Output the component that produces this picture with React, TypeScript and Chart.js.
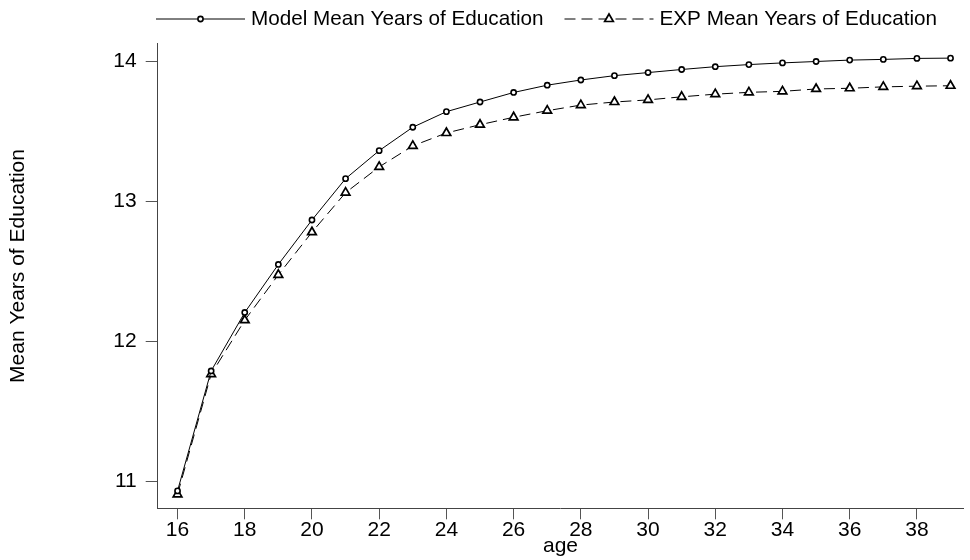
import React, { useEffect, useRef } from "react";
import { Chart, registerables } from "chart.js";

Chart.register(...registerables);

const ages = [16, 17, 18, 19, 20, 21, 22, 23, 24, 25, 26, 27, 28, 29, 30, 31, 32, 33, 34, 35, 36, 37, 38, 39];
const modelMean = [
  10.934, 11.79, 12.207, 12.55, 12.867, 13.162, 13.362, 13.529, 13.64, 13.709, 13.777, 13.829,
  13.866, 13.897, 13.919, 13.941, 13.961, 13.976, 13.988, 13.998, 14.008, 14.013, 14.02, 14.022,
];
const expMean = [
  10.91, 11.767, 12.152, 12.476, 12.78, 13.062, 13.246, 13.396, 13.488, 13.547, 13.6, 13.647,
  13.687, 13.709, 13.724, 13.746, 13.765, 13.778, 13.785, 13.802, 13.807, 13.817, 13.822, 13.825,
];
const xTickValues = [16, 18, 20, 22, 24, 26, 28, 30, 32, 34, 36, 38];
const yTickValues = [11, 12, 13, 14];
const seriesLabels = ["Model Mean Years of Education", "EXP Mean Years of Education"];
const xTitle = "age";
const yTitle = "Mean Years of Education";

const FONT = "'Liberation Sans', Arial, Helvetica, sans-serif";

const legendPlugin = {
  id: "lineMarkerLegend",
  afterDraw(chart: any) {
    const ctx = chart.ctx as CanvasRenderingContext2D;
    ctx.save();
    const y = 19;
    let x = 156;
    const lineLen = 89;
    ctx.font = `20.7px ${FONT}`;
    ctx.textBaseline = "middle";
    ctx.textAlign = "left";
    chart.data.datasets.forEach((ds: any) => {
      ctx.strokeStyle = ds.borderColor;
      ctx.lineWidth = 1;
      ctx.setLineDash(ds.borderDash || []);
      ctx.beginPath();
      ctx.moveTo(x, y);
      ctx.lineTo(x + lineLen, y);
      ctx.stroke();
      ctx.setLineDash([]);
      const cx = x + lineLen / 2;
      ctx.fillStyle = "#fff";
      ctx.strokeStyle = "#000";
      ctx.lineWidth = ds.pointBorderWidth;
      ctx.beginPath();
      if (ds.pointStyle === "triangle") {
        const r = ds.pointRadius;
        for (let k = 0; k < 3; k++) {
          const a = (k * 2 * Math.PI) / 3;
          const px = cx + Math.sin(a) * r;
          const py = y - Math.cos(a) * r;
          if (k === 0) ctx.moveTo(px, py);
          else ctx.lineTo(px, py);
        }
        ctx.closePath();
      } else {
        ctx.arc(cx, y, ds.pointRadius, 0, Math.PI * 2);
      }
      ctx.fill();
      ctx.stroke();
      ctx.fillStyle = "#000";
      const tx = x + lineLen + 6;
      ctx.fillText(ds.label, tx, y);
      x = tx + ctx.measureText(ds.label).width + 21;
    });

    // y-axis title, placed as in the reference (slightly above the plot centre)
    ctx.font = `21px ${FONT}`;
    ctx.textAlign = "center";
    ctx.textBaseline = "middle";
    ctx.fillStyle = "#000";
    ctx.translate(18, 266);
    ctx.rotate(-Math.PI / 2);
    ctx.fillText(yTitle, 0, 0);
    ctx.restore();
  },
};

export default function App() {
  const canvasRef = useRef<HTMLCanvasElement | null>(null);

  useEffect(() => {
    if (!canvasRef.current) return;
    const tickFont = { family: FONT, size: 21 };
    const chart = new Chart(canvasRef.current, {
      type: "line",
      data: {
        datasets: [
          {
            label: seriesLabels[0],
            data: ages.map((a, i) => ({ x: a, y: modelMean[i] })),
            borderColor: "#000",
            borderWidth: 1,
            pointStyle: "circle",
            pointRadius: 2.6,
            pointBorderWidth: 1.6,
            pointBackgroundColor: "#fff",
            pointBorderColor: "#000",
            tension: 0,
            fill: false,
          },
          {
            label: seriesLabels[1],
            data: ages.map((a, i) => ({ x: a, y: expMean[i] })),
            borderColor: "#000",
            borderWidth: 1,
            borderDash: [11, 6],
            pointStyle: "triangle",
            pointRadius: 5,
            pointBorderWidth: 1.7,
            pointBackgroundColor: "#fff",
            pointBorderColor: "#000",
            tension: 0,
            fill: false,
          },
        ],
      },
      options: {
        animation: false,
        responsive: true,
        maintainAspectRatio: false,
        layout: { padding: { top: 43, left: 0, right: 0, bottom: 0 } },
        plugins: {
          legend: { display: false },
          tooltip: { enabled: false },
        },
        scales: {
          x: {
            type: "linear",
            min: 15.41,
            max: 39.38,
            afterBuildTicks: (s: any) => {
              s.ticks = xTickValues.map((v) => ({ value: v }));
            },
            afterFit: (s: any) => {
              s.height = 51.7;
            },
            grid: { display: true, drawOnChartArea: false, drawTicks: true, tickLength: 11, color: "#555", lineWidth: 1 },
            border: { display: true, color: "#444", width: 1 },
            ticks: { font: tickFont, color: "#000", padding: -2, maxRotation: 0, autoSkip: false },
            title: { display: true, text: xTitle, font: tickFont, color: "#000", padding: { top: 0, bottom: 1 } },
          },
          y: {
            type: "linear",
            min: 10.81,
            max: 14.13,
            afterBuildTicks: (s: any) => {
              s.ticks = yTickValues.map((v) => ({ value: v }));
            },
            afterFit: (s: any) => {
              s.width = 157.7;
            },
            grid: { display: true, drawOnChartArea: false, drawTicks: true, tickLength: 12, color: "#555", lineWidth: 1 },
            border: { display: true, color: "#444", width: 1 },
            ticks: { font: tickFont, color: "#000", padding: 9 },
            title: { display: false, text: yTitle },
          },
        },
      },
      plugins: [legendPlugin],
    });
    return () => chart.destroy();
  }, []);

  return (
    <div style={{ position: "fixed", left: 0, top: 0, width: 970, height: 560, background: "#fff" }}>
      <canvas ref={canvasRef} />
    </div>
  );
}
